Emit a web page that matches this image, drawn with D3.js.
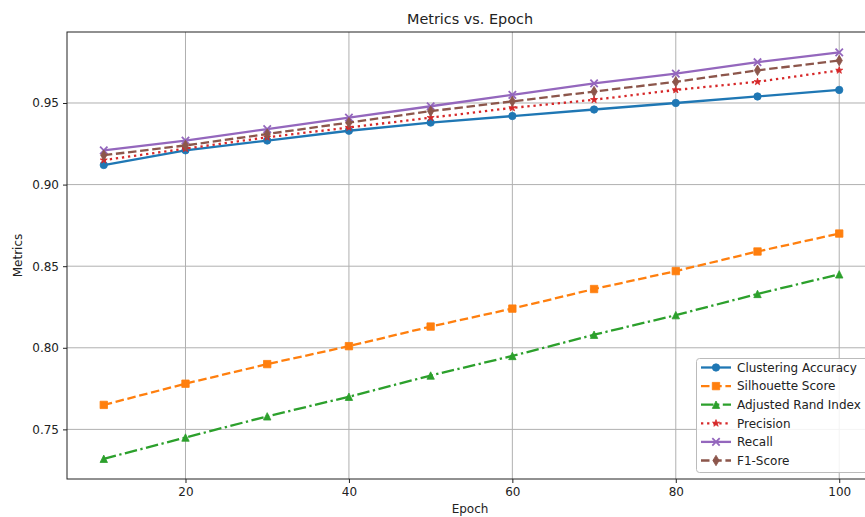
<!DOCTYPE html>
<html>
<head>
<meta charset="utf-8">
<script src="https://cdnjs.cloudflare.com/ajax/libs/d3/7.8.5/d3.min.js"></script>
<style>
    body { margin: 0; background: #fff; }
    svg { display: block; font-family: "DejaVu Sans", sans-serif; }
</style>
</head>
<body>
<div id="chart"></div>
<script>
(function(){
    "use strict";

    // data
    var epochs = [10, 20, 30, 40, 50, 60, 70, 80, 90, 100];
    var clusteringAccuracy = [0.912, 0.921, 0.927, 0.933, 0.938, 0.942, 0.946, 0.950, 0.954, 0.958];
    var silhouetteScore    = [0.765, 0.778, 0.790, 0.801, 0.813, 0.824, 0.836, 0.847, 0.859, 0.870];
    var adjustedRandIndex  = [0.732, 0.745, 0.758, 0.770, 0.783, 0.795, 0.808, 0.820, 0.833, 0.845];
    var precision          = [0.915, 0.922, 0.929, 0.935, 0.941, 0.947, 0.952, 0.958, 0.963, 0.970];
    var recall             = [0.921, 0.927, 0.934, 0.941, 0.948, 0.955, 0.962, 0.968, 0.975, 0.981];
    var f1Score            = [0.918, 0.924, 0.931, 0.938, 0.945, 0.951, 0.957, 0.963, 0.970, 0.976];

    var xTicks = [20, 40, 60, 80, 100];
    var yTicks = [0.75, 0.80, 0.85, 0.90, 0.95];

    var seriesNames = ["Clustering Accuracy", "Silhouette Score", "Adjusted Rand Index", "Precision", "Recall", "F1-Score"];
    var seriesValues = [clusteringAccuracy, silhouetteScore, adjustedRandIndex, precision, recall, f1Score];

    // style per series (matplotlib tab10 + line styles)
    var colors = ["#1f77b4", "#ff7f0e", "#2ca02c", "#d62728", "#9467bd", "#8c564b"];
    var dashes = [null, "8.5,3.7", "12.5,3.5,2.3,3.5", "2.3,3.8", null, "8.5,3.7"];
    var markers = ["circle", "square", "triangle", "star", "x", "thindiamond"];

    var W = 865, H = 517;
    var margin = {top: 32, left: 67, right: 876, bottom: 479};
    var ms = 7.4; // marker size px
    var lw = 2.3;

    var svg = d3.select("#chart").append("svg")
        .attr("width", W)
        .attr("height", H);

    // scales
    var x = d3.scaleLinear().domain([5.5, 104.5]).range([margin.left, margin.right]);
    var y = d3.scaleLinear().domain([0.7196, 0.9935]).range([margin.bottom, margin.top]);

    // grid
    var grid = svg.append("g").attr("class", "grid");
    grid.selectAll(".gx").data(xTicks).enter().append("line")
        .attr("x1", function(d) { return x(d); })
        .attr("x2", function(d) { return x(d); })
        .attr("y1", margin.top).attr("y2", margin.bottom)
        .attr("stroke", "#b0b0b0").attr("stroke-width", 1);
    grid.selectAll(".gy").data(yTicks).enter().append("line")
        .attr("y1", function(d) { return y(d); })
        .attr("y2", function(d) { return y(d); })
        .attr("x1", margin.left).attr("x2", margin.right)
        .attr("stroke", "#b0b0b0").attr("stroke-width", 1);

    // marker shapes
    function markerPath(type, s) {
        var h = s / 2;
        if (type === "circle") {
            var p2 = d3.path(); p2.arc(0, 0, h, 0, 2 * Math.PI); return p2.toString();
        }
        if (type === "square") return "M" + (-h) + "," + (-h) + "H" + h + "V" + h + "H" + (-h) + "Z";
        if (type === "triangle") return "M0," + (-h) + "L" + h + "," + h + "L" + (-h) + "," + h + "Z";
        if (type === "x") return "M" + (-h) + "," + (-h) + "L" + h + "," + h + "M" + (-h) + "," + h + "L" + h + "," + (-h);
        if (type === "thindiamond") {
            var dh = h * 1.414, dw = dh * 0.6;
            return "M0," + (-dh) + "L" + dw + ",0L0," + dh + "L" + (-dw) + ",0Z";
        }
        if (type === "star") {
            var pts = [];
            for (var i = 0; i < 10; i++) {
                var r = (i % 2 === 0) ? h : h * 0.382;
                var a = -Math.PI / 2 + i * Math.PI / 5;
                pts.push((r * Math.cos(a)).toFixed(2) + "," + (r * Math.sin(a)).toFixed(2));
            }
            return "M" + pts.join("L") + "Z";
        }
        return "";
    }

    function drawMarker(g, type, color) {
        var m = g.append("path").attr("d", markerPath(type, ms));
        if (type === "x") {
            m.attr("fill", "none").attr("stroke", color).attr("stroke-width", 1.8);
        } else {
            m.attr("fill", color).attr("stroke", color).attr("stroke-width", 0.8);
        }
        return m;
    }

    // lines
    var line = d3.line()
        .x(function(d) { return x(d.epoch); })
        .y(function(d) { return y(d.value); });

    var plot = svg.append("g").attr("class", "series");
    seriesNames.forEach(function(name, i) {
        var data = epochs.map(function(e, j) { return {epoch: e, value: seriesValues[i][j]}; });
        var g = plot.append("g");
        g.append("path")
            .datum(data)
            .attr("d", line)
            .attr("fill", "none")
            .attr("stroke", colors[i])
            .attr("stroke-width", lw)
            .attr("stroke-dasharray", dashes[i]);
        data.forEach(function(d) {
            var mg = g.append("g").attr("transform", "translate(" + x(d.epoch) + "," + y(d.value) + ")");
            drawMarker(mg, markers[i], colors[i]);
        });
    });

    // axes
    var xAxis = svg.append("g")
        .attr("transform", "translate(0," + margin.bottom + ")")
        .call(d3.axisBottom(x).tickValues(xTicks).tickSize(4).tickPadding(4).tickSizeOuter(0));
    var yAxis = svg.append("g")
        .attr("transform", "translate(" + margin.left + ",0)")
        .call(d3.axisLeft(y).tickValues(yTicks).tickFormat(d3.format(".2f")).tickSize(4).tickPadding(4).tickSizeOuter(0));
    [xAxis, yAxis].forEach(function(a) {
        a.select(".domain").remove();
        a.selectAll("text").attr("font-size", "12px").attr("fill", "#222").attr("font-family", "DejaVu Sans, sans-serif");
        a.selectAll("line").attr("stroke", "#222");
    });

    // spines
    svg.append("rect")
        .attr("x", margin.left).attr("y", margin.top)
        .attr("width", margin.right - margin.left)
        .attr("height", margin.bottom - margin.top)
        .attr("fill", "none").attr("stroke", "#222").attr("stroke-width", 1);

    // title and labels
    svg.append("text")
        .attr("x", 470).attr("y", 24)
        .attr("text-anchor", "middle")
        .attr("font-size", "14.4px").attr("fill", "#222")
        .text("Metrics vs. Epoch");
    svg.append("text")
        .attr("x", 470).attr("y", 513)
        .attr("text-anchor", "middle")
        .attr("font-size", "12px").attr("fill", "#222")
        .text("Epoch");
    svg.append("text")
        .attr("transform", "translate(22," + ((margin.top + margin.bottom) / 2) + ") rotate(-90)")
        .attr("text-anchor", "middle")
        .attr("font-size", "12px").attr("fill", "#222")
        .text("Metrics");

    // legend
    var legend = svg.append("g").attr("class", "legend");
    legend.append("rect")
        .attr("x", 696.5).attr("y", 358.5)
        .attr("width", 176).attr("height", 114)
        .attr("rx", 3)
        .attr("fill", "#fff").attr("fill-opacity", 0.85)
        .attr("stroke", "#bbb").attr("stroke-width", 1);
    seriesNames.forEach(function(name, i) {
        var ly = 367.5 + i * 18.6;
        var row = legend.append("g").attr("transform", "translate(0," + ly + ")");
        row.append("line")
            .attr("x1", 701).attr("x2", 731).attr("y1", 0).attr("y2", 0)
            .attr("stroke", colors[i]).attr("stroke-width", lw)
            .attr("stroke-dasharray", dashes[i]);
        var mg = row.append("g").attr("transform", "translate(716,0)");
        drawMarker(mg, markers[i], colors[i]);
        row.append("text")
            .attr("x", 737).attr("y", 0)
            .attr("dy", "0.35em")
            .attr("font-size", "12px").attr("fill", "#222")
            .text(name);
    });
})();
</script>
</body>
</html>
